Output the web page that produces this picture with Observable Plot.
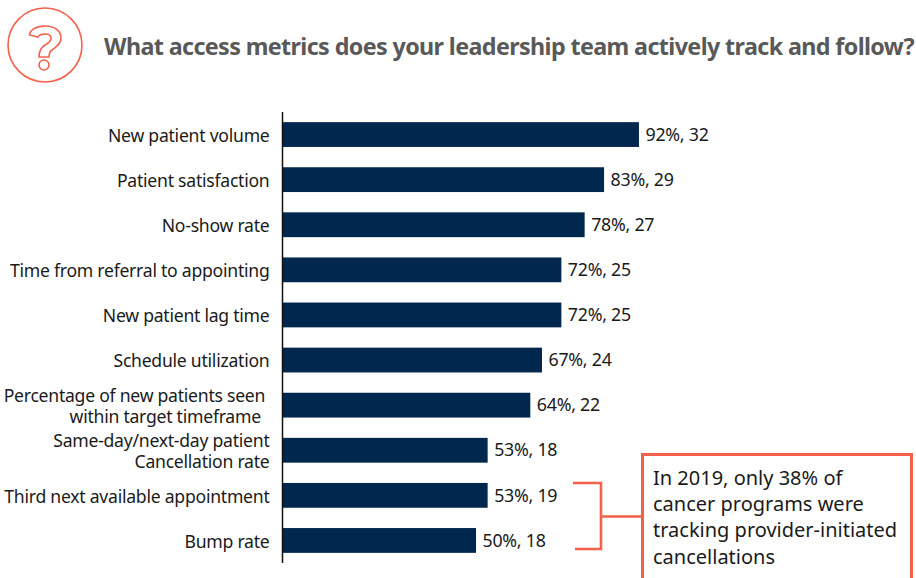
<!DOCTYPE html>
<html>
<head>
<meta charset="utf-8">
<script src="https://cdn.jsdelivr.net/npm/d3@7"></script>
<script src="https://cdn.jsdelivr.net/npm/@observablehq/plot@0.6"></script>
<style>
  html, body { margin: 0; padding: 0; background: #fff; }
  #page { position: relative; width: 916px; height: 578px; overflow: hidden; font-family: "Noto Sans", "Open Sans", sans-serif; }
  #chart { position: absolute; left: 0; top: 0; }
  #title { position: absolute; left: 104px; top: 29px; white-space: nowrap; font-size: 23.3px; font-weight: 700; color: #595959; line-height: 34px; letter-spacing: -0.62px; }
  #note { position: absolute; left: 640.5px; top: 452.5px; width: 272.5px; height: 128px; box-sizing: border-box; border: 3px solid #F4604A; padding: 9px 0 0 9.5px; font-size: 20px; line-height: 26.4px; color: #1a1a1a; background: #fff; white-space: nowrap; }
  .deco { position: absolute; left: 0; top: 0; pointer-events: none; }
</style>
</head>
<body>
<div id="page">
  <div id="chart"></div>
  <svg class="deco" width="916" height="578" fill="none" stroke="#F4604A">
    <!-- question-mark badge -->
    <circle cx="45" cy="45" r="37" stroke-width="1.6"/>
    <path stroke-width="1.6" d="M29.5 35 C30 30 36 26 45 26 C55 26 61 31 61 38 C61 44 56 47 52 50 C49 52 49 54 49 57 L39 57 C39 52 40 48 45 45 C49 43 51 41 51 38 C51 35 48 34 45 34 C42 34 39 35 38 37 Z"/>
    <circle cx="44" cy="65" r="5" stroke-width="1.6"/>
    <!-- bracket tying the last two rows to the note -->
    <path stroke-width="2.6" d="M573 483 H601 V549 H575 M601 516.5 H641"/>
  </svg>
  <div id="title">What access metrics does your leadership team actively track and follow?</div>
  <div id="note">In 2019, only 38% of<br>cancer programs were<br>tracking provider-initiated<br>cancellations</div>
</div>
<script>
const metrics = [
  "New patient volume",
  "Patient satisfaction",
  "No-show rate",
  "Time from referral to appointing",
  "New patient lag time",
  "Schedule utilization",
  "Percentage of new patients seen\u00a0\nwithin target timeframe\u00a0\u00a0",
  "Same-day/next-day patient\nCancellation rate",
  "Third next available appointment",
  "Bump rate"
];
const percents = [92, 83, 78, 72, 72, 67, 64, 53, 53, 50];
const counts = [32, 29, 27, 25, 25, 24, 22, 18, 19, 18];

const rows = metrics.map((metric, i) => ({metric, percent: percents[i], count: counts[i]}));

const plot = Plot.plot({
  width: 916,
  height: 578,
  marginLeft: 282,
  marginRight: 246,
  marginTop: 112,
  marginBottom: 15,
  style: {background: "transparent", fontFamily: "'Noto Sans', 'Open Sans', sans-serif", overflow: "visible", letterSpacing: "-0.25px"},
  x: {domain: [0, 100], axis: null},
  y: {domain: metrics, axis: null, paddingInner: 0.45, paddingOuter: 0.225, align: 0.5, round: false},
  marks: [
    Plot.barX(rows, {x: "percent", y: "metric", fill: "#00274D"}),
    Plot.ruleX([0], {stroke: "#111", strokeWidth: 1.5}),
    Plot.text(rows, {
      x: 0, y: "metric", text: "metric", textAnchor: "end", dx: -13,
      fontSize: 17.6, fill: "#1a1a1a", lineHeight: 1.22, lineAnchor: "middle"
    }),
    Plot.text(rows, {
      x: "percent", y: "metric", text: d => `${d.percent}%, ${d.count}`,
      textAnchor: "start", dx: 6, fontSize: 17.8, fill: "#1a1a1a"
    })
  ]
});
document.getElementById("chart").append(plot);
</script>
</body>
</html>
